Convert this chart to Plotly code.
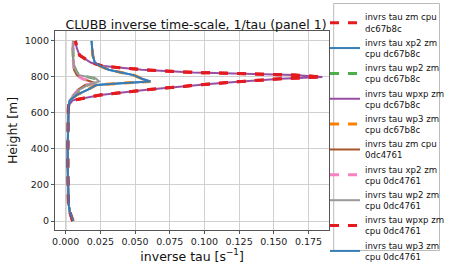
import plotly.graph_objects as go

height = [0, 50, 100, 200, 300, 400, 500, 600, 640, 670, 700, 730, 755, 765, 775, 790, 800, 810, 825, 840, 860, 880, 920, 960, 1000]

big_peak = [0.005, 0.003, 0.002, 0.0015, 0.0015, 0.0015, 0.0015, 0.0015, 0.002, 0.005, 0.025, 0.06, 0.093, 0.11, 0.127, 0.155, 0.185, 0.165, 0.092, 0.055, 0.027, 0.018, 0.010, 0.008, 0.007]
mid_peak = [0.0055, 0.003, 0.002, 0.0015, 0.0015, 0.0015, 0.0015, 0.0015, 0.002, 0.003, 0.008, 0.016, 0.022, 0.040, 0.061, 0.055, 0.052, 0.049, 0.040, 0.031, 0.025, 0.021, 0.0195, 0.019, 0.0186]
wp2_peak = [0.005, 0.003, 0.002, 0.0015, 0.0015, 0.0015, 0.0015, 0.0015, 0.002, 0.003, 0.006, 0.010, 0.016, 0.020, 0.024, 0.022, 0.015, 0.010, 0.008, 0.007, 0.006, 0.0056, 0.0052, 0.0052, 0.0056]
low_peak = [0.005, 0.003, 0.002, 0.0015, 0.0015, 0.0015, 0.0015, 0.0015, 0.002, 0.003, 0.006, 0.009, 0.014, 0.021, 0.018, 0.012, 0.010, 0.008, 0.007, 0.006, 0.0058, 0.0055, 0.0052, 0.0052, 0.0054]

names = ["invrs tau zm cpu<br>dc67b8c", "invrs tau xp2 zm<br>cpu dc67b8c", "invrs tau wp2 zm<br>cpu dc67b8c",
         "invrs tau wpxp zm<br>cpu dc67b8c", "invrs tau wp3 zm<br>cpu dc67b8c", "invrs tau zm cpu<br>0dc4761",
         "invrs tau xp2 zm<br>cpu 0dc4761", "invrs tau wp2 zm<br>cpu 0dc4761", "invrs tau wpxp zm<br>cpu 0dc4761",
         "invrs tau wp3 zm<br>cpu 0dc4761"]
values = [big_peak, mid_peak, wp2_peak, big_peak, mid_peak, low_peak, low_peak, wp2_peak, big_peak, mid_peak]
colors = ["#e41a1c", "#377eb8", "#4daf4a", "#984ea3", "#ff7f00", "#a65628", "#f781bf", "#999999", "#e41a1c", "#377eb8"]
dashes = ["dash", "solid", "dash", "solid", "dash", "solid", "dash", "solid", "dash", "solid"]
widths = [3, 2, 3, 2, 3, 2, 3, 2, 3, 2]

fig = go.Figure()
for n, v, c, d, w in zip(names, values, colors, dashes, widths):
    fig.add_trace(go.Scatter(x=v, y=height, mode="lines", name=n,
                             line=dict(color=c, dash=d, width=w)))

W, H = 450, 270
L, R, T, B = 56, 336, 31, 230

axis_common = dict(showgrid=True, gridcolor="#d0d0d0", gridwidth=1, showline=True, linecolor="#555555",
                   mirror=True, ticks="outside", ticklen=3, tickcolor="#555555",
                   tickfont=dict(size=9.5, color="#222"), zeroline=False, automargin=False)

fig.update_layout(
    width=W, height=H,
    margin=dict(l=0, r=0, t=0, b=0),
    paper_bgcolor="white", plot_bgcolor="white",
    font=dict(family="DejaVu Sans", color="#111"),
    title=dict(text="CLUBB inverse time-scale, 1/tau (panel 1)", x=196 / W, xanchor="center",
               y=1 - 25 / H, yanchor="middle", font=dict(size=12.5)),
    xaxis=dict(domain=[L / W, R / W], range=[-0.0078, 0.19],
               tickvals=[0, 0.025, 0.05, 0.075, 0.1, 0.125, 0.15, 0.175],
               ticktext=["0.000", "0.025", "0.050", "0.075", "0.100", "0.125", "0.150", "0.175"],
               title=dict(text="inverse tau [s<sup>−1</sup>]", font=dict(size=12.5), standoff=4), **axis_common),
    yaxis=dict(domain=[1 - B / H, 1 - T / H], range=[-50, 1055], tickvals=[0, 200, 400, 600, 800, 1000],
               title=dict(text="Height [m]", font=dict(size=12.5), standoff=4), **axis_common),
    legend=dict(x=332 / W, xanchor="left", y=1 - 5 / H, yanchor="top", maxheight=1,
                font=dict(size=8.6), borderwidth=0, tracegroupgap=0,
                bgcolor="rgba(0,0,0,0)"),
    showlegend=True,
)
fig.add_shape(type="line", x0=0, x1=0, y0=0, y1=1, yref="y domain", xref="x",
              line=dict(color="#555555", width=1), layer="below")

# legend frame, placed in pixel terms relative to the x axis domain
fig.add_shape(type="rect", xref="x domain", yref="y domain",
              x0=(340.5 - L) / (R - L), x1=(448.5 - L) / (R - L),
              y0=(B - 250.5) / (B - T), y1=(B - 3.5) / (B - T),
              line=dict(color="#bbbbbb", width=1), layer="above")

fig.write_html("out.html")
